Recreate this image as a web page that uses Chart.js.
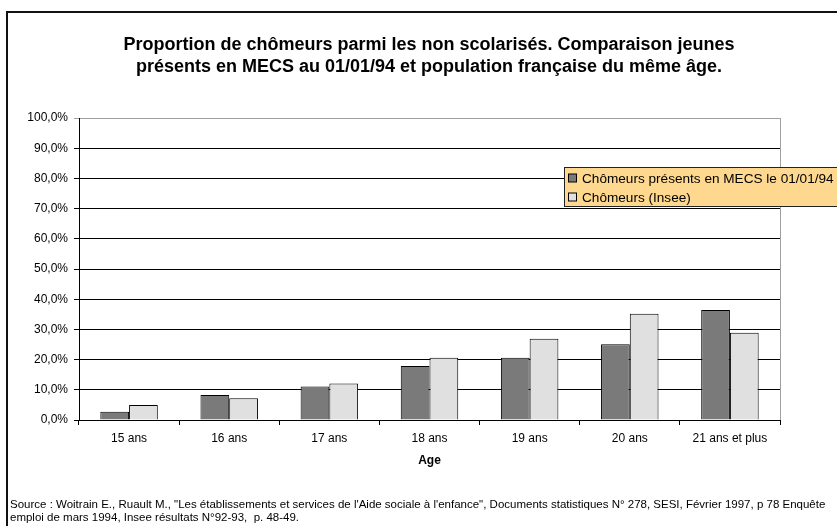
<!DOCTYPE html>
<html>
<head>
<meta charset="utf-8">
<script src="https://cdn.jsdelivr.net/npm/chart.js@4/dist/chart.umd.min.js"></script>
<style>
  html, body { margin: 0; padding: 0; background: #fff; }
  #wrap { width: 837px; height: 526px; }
</style>
</head>
<body>
<div id="wrap"><canvas id="chart" width="837" height="526"></canvas></div>
<script>
  // données
  const ages = ['15 ans', '16 ans', '17 ans', '18 ans', '19 ans', '20 ans', '21 ans et plus'];
  const mecs = [2.7, 8.3, 11.1, 17.9, 20.6, 25.1, 36.4];
  const insee = [5.0, 7.2, 12.1, 20.6, 26.9, 35.2, 28.9];
  const seriesLabels = ['Chômeurs présents en MECS le 01/01/94', 'Chômeurs (Insee)'];
  const titleLines = [
    'Proportion de chômeurs parmi les non scolarisés. Comparaison jeunes',
    'présents en MECS au 01/01/94 et population française du même âge.',
  ];
  const sourceLines = [
    'Source : Woitrain E., Ruault M., "Les établissements et services de l\'Aide sociale à l\'enfance", Documents statistiques N° 278, SESI, Février 1997, p 78 Enquête',
    'emploi de mars 1994, Insee résultats N°92-93,  p. 48-49.',
  ];
  const xTitle = 'Age';

  const FONT = 'Arial, "Liberation Sans", sans-serif';

  // cadre, titre, source et légende dessinés à la main
  const decor = {
    id: 'decor',
    beforeDraw(chart) {
      const ctx = chart.ctx;
      ctx.save();
      ctx.fillStyle = '#fff';
      ctx.fillRect(0, 0, chart.width, chart.height);
      ctx.strokeStyle = '#111';
      ctx.lineWidth = 2;
      ctx.strokeRect(7, 12, chart.width + 20, chart.height + 20);
      ctx.restore();
    },
    afterDraw(chart) {
      const ctx = chart.ctx;
      const a = chart.chartArea;
      ctx.save();
      // bord droit gris
      ctx.strokeStyle = '#a0a0a0';
      ctx.lineWidth = 1;
      ctx.beginPath();
      ctx.moveTo(Math.round(a.right) + 0.5, a.top);
      ctx.lineTo(Math.round(a.right) + 0.5, a.bottom);
      ctx.stroke();

      // titre
      ctx.fillStyle = '#000';
      ctx.textAlign = 'center';
      ctx.textBaseline = 'middle';
      ctx.font = 'bold 18px ' + FONT;
      titleLines.forEach((t, i) => ctx.fillText(t, 429, 45 + i * 22));

      // source
      ctx.textAlign = 'left';
      ctx.font = '11.5px ' + FONT;
      sourceLines.forEach((t, i) => ctx.fillText(t, 10, 505 + i * 13));

      // légende
      const lx = 564, ly = 167, lh = 39;
      ctx.fillStyle = '#fdd88e';
      ctx.fillRect(lx, ly, chart.width - lx + 5, lh);
      ctx.strokeStyle = '#222';
      ctx.strokeRect(lx + 0.5, ly + 0.5, chart.width - lx + 5, lh);
      ctx.font = '13.6px ' + FONT;
      chart.data.datasets.forEach((ds, i) => {
        const cy = 178 + i * 19;
        ctx.fillStyle = ds.backgroundColor;
        ctx.fillRect(568.5, cy - 4, 8, 8);
        ctx.strokeStyle = '#000';
        ctx.strokeRect(568.5, cy - 4, 8, 8);
        ctx.fillStyle = '#000';
        ctx.fillText(ds.label, 582, cy + 1);
      });
      ctx.restore();
    },
  };

  new Chart(document.getElementById('chart'), {
    type: 'bar',
    data: {
      labels: ages,
      datasets: [
        {
          label: seriesLabels[0],
          data: mecs,
          backgroundColor: '#7a7a7a',
          borderColor: '#000',
          borderWidth: 1,
        },
        {
          label: seriesLabels[1],
          data: insee,
          backgroundColor: '#e0e0e0',
          borderColor: '#000',
          borderWidth: 1,
        },
      ],
    },
    options: {
      responsive: false,
      animation: false,
      categoryPercentage: 0.574,
      barPercentage: 1,
      layout: { padding: { left: 9, top: 118, right: 57, bottom: 56 } },
      plugins: {
        legend: { display: false },
        tooltip: { enabled: false },
        title: { display: false },
      },
      scales: {
        x: {
          afterFit: s => { s.height = 50; },
          grid: {
            offset: true,
            drawOnChartArea: false,
            drawTicks: true,
            tickLength: 5,
            color: '#000',
          },
          border: { color: '#000', width: 1 },
          ticks: { color: '#000', font: { family: FONT, size: 12 }, padding: 6, maxRotation: 0 },
          title: {
            display: true,
            text: xTitle,
            color: '#000',
            font: { family: FONT, size: 12, weight: 'bold' },
            padding: { top: 4, bottom: 2 },
          },
        },
        y: {
          min: 0,
          max: 100,
          afterFit: s => { s.width = 70; },
          grid: {
            color: c => (c.tick && c.tick.value === 100 ? '#a0a0a0' : '#000'),
            lineWidth: 1,
            tickLength: 5,
          },
          border: { color: '#000', width: 1 },
          ticks: {
            stepSize: 10,
            color: '#000',
            padding: 6,
            font: { family: FONT, size: 12 },
            callback: v => v.toFixed(1).replace('.', ',') + '%',
          },
        },
      },
    },
    plugins: [decor],
  });
</script>
</body>
</html>
